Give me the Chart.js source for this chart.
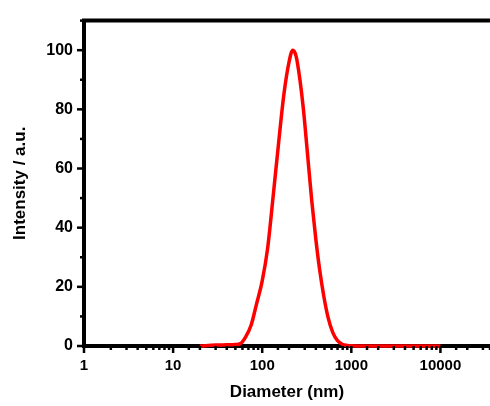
<!DOCTYPE html>
<html>
<head>
<meta charset="utf-8">
<script src="https://cdn.jsdelivr.net/npm/chart.js@4"></script>
<style>
  html, body { margin: 0; padding: 0; background: #fff; }
  #wrap { width: 490px; height: 406px; }
</style>
</head>
<body>
<div id="wrap"><canvas id="sizeChart"></canvas></div>
<script>
// particle size distribution (DLS)
const diameters = [20, 30, 40, 50, 57, 65, 75, 86, 100, 115, 132, 152, 175, 200, 220, 240, 265, 290, 320, 360, 400, 440, 490, 550, 620, 700, 800, 900, 1000, 2000, 5000, 10000];
const intensity = [0, 0.3, 0.4, 0.5, 0.8, 3, 7, 14, 22, 33, 50, 68, 85, 96, 100, 98, 90, 80, 66, 49, 36, 26, 17, 9.5, 4.5, 1.8, 0.5, 0.2, 0.1, 0, 0, 0];
const xTickLabels = [1, 10, 100, 1000, 10000];
const yTickLabels = [0, 20, 40, 60, 80, 100];

const fontFamily = '"Liberation Sans", Arial, sans-serif';

// outward tick marks, long for labelled ticks and short for the rest
const tickMarks = {
    id: 'tickMarks',
    afterDraw(chart) {
        const ctx = chart.ctx;
        const area = chart.chartArea;
        const xs = chart.scales.x;
        const ys = chart.scales.y;
        ctx.save();
        ctx.strokeStyle = '#000';
        ctx.lineWidth = 2.5;
        xs.ticks.forEach(t => {
            const px = xs.getPixelForValue(t.value);
            const len = xTickLabels.includes(t.value) ? 7 : 4;
            ctx.beginPath();
            ctx.moveTo(px, area.bottom);
            ctx.lineTo(px, area.bottom + len);
            ctx.stroke();
        });
        ys.ticks.forEach(t => {
            const py = ys.getPixelForValue(t.value);
            const len = yTickLabels.includes(t.value) ? 7 : 4;
            ctx.beginPath();
            ctx.moveTo(area.left, py);
            ctx.lineTo(area.left - len, py);
            ctx.stroke();
        });
        // top frame line
        ctx.lineWidth = 4;
        ctx.beginPath();
        ctx.moveTo(area.left - 2, area.top);
        ctx.lineTo(chart.width, area.top);
        ctx.stroke();
        ctx.restore();
    }
};

new Chart(document.getElementById('sizeChart'), {
    type: 'line',
    data: {
        datasets: [{
            data: diameters.map((d, i) => ({ x: d, y: intensity[i] })),
            borderColor: '#ff0000',
            borderWidth: 3.5,
            pointRadius: 0,
            pointHoverRadius: 0,
            cubicInterpolationMode: 'monotone',
            clip: false
        }]
    },
    options: {
        responsive: true,
        maintainAspectRatio: false,
        animation: false,
        layout: { autoPadding: false, padding: { top: 15, right: 0, left: 0, bottom: 0 } },
        plugins: {
            legend: { display: false },
            tooltip: { enabled: false }
        },
        scales: {
            x: {
                type: 'logarithmic',
                min: 1,
                max: 36000,
                afterFit: scale => { scale.height = 60; scale.paddingRight = 0; },
                grid: { drawOnChartArea: false, drawTicks: false },
                border: { display: true, color: '#000', width: 4 },
                ticks: {
                    autoSkip: false,
                    maxRotation: 0,
                    padding: 11,
                    color: '#000',
                    font: { family: fontFamily, size: 15, weight: 'bold' },
                    callback: value => xTickLabels.includes(value) ? String(value) : ''
                },
                title: {
                    display: true,
                    text: 'Diameter (nm)',
                    color: '#000',
                    padding: 3,
                    font: { family: fontFamily, size: 17, weight: 'bold' }
                }
            },
            y: {
                min: 0,
                max: 110,
                afterFit: scale => { scale.width = 84; },
                grid: { drawOnChartArea: false, drawTicks: false },
                border: { display: true, color: '#000', width: 4 },
                ticks: {
                    stepSize: 10,
                    padding: 11,
                    color: '#000',
                    font: { family: fontFamily, size: 16, weight: 'bold' },
                    callback: value => yTickLabels.includes(value) ? String(value) : ''
                },
                title: {
                    display: true,
                    text: 'Intensity / a.u.',
                    color: '#000',
                    padding: 10,
                    font: { family: fontFamily, size: 17, weight: 'bold' }
                }
            }
        }
    },
    plugins: [tickMarks]
});
</script>
</body>
</html>
